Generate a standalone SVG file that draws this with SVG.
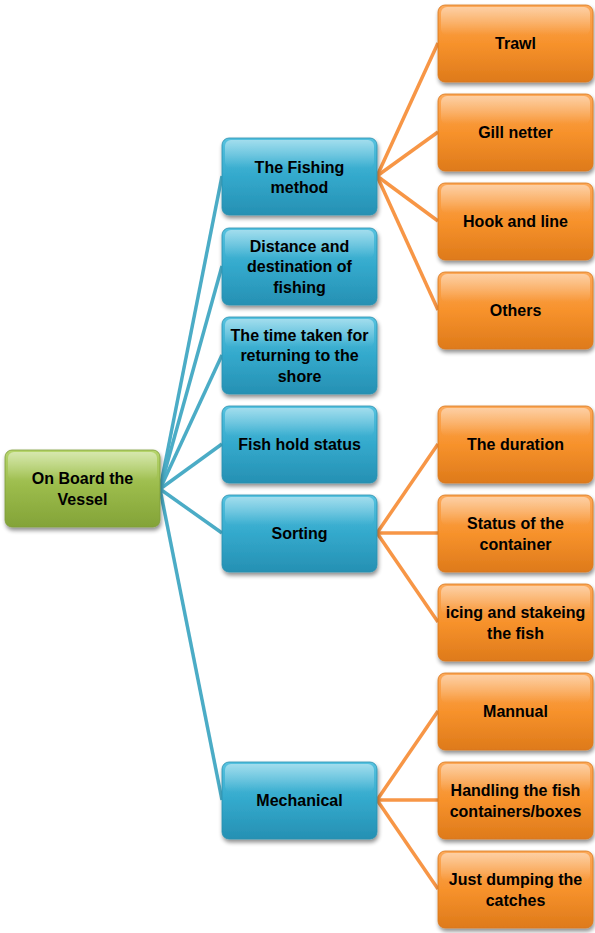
<svg xmlns="http://www.w3.org/2000/svg" width="595" height="933" viewBox="0 0 595 933">
  <defs>
    <linearGradient id="gGreen" x1="0" y1="0" x2="0" y2="1">
      <stop offset="0" stop-color="#b6d56c"/>
      <stop offset="0.5" stop-color="#9aba4a"/>
      <stop offset="1" stop-color="#83a338"/>
    </linearGradient>
    <linearGradient id="gBlue" x1="0" y1="0" x2="0" y2="1">
      <stop offset="0" stop-color="#56c2df"/>
      <stop offset="0.5" stop-color="#33a9cc"/>
      <stop offset="1" stop-color="#2690b3"/>
    </linearGradient>
    <linearGradient id="gOrange" x1="0" y1="0" x2="0" y2="1">
      <stop offset="0" stop-color="#fca95a"/>
      <stop offset="0.5" stop-color="#f7922c"/>
      <stop offset="1" stop-color="#de7a1a"/>
    </linearGradient>
    <linearGradient id="gloss" x1="0" y1="0" x2="0" y2="1">
      <stop offset="0" stop-color="#ffffff" stop-opacity="0.45"/>
      <stop offset="1" stop-color="#ffffff" stop-opacity="0"/>
    </linearGradient>
    <filter id="shadow" x="-10%" y="-10%" width="125%" height="135%">
      <feGaussianBlur in="SourceAlpha" stdDeviation="2"/>
      <feOffset dx="1" dy="3" result="b"/>
      <feComponentTransfer><feFuncA type="linear" slope="0.45"/></feComponentTransfer>
      <feMerge><feMergeNode/><feMergeNode in="SourceGraphic"/></feMerge>
    </filter>
  </defs>
  <style>
    .box { filter: url(#shadow); }
    .green { fill: url(#gGreen); stroke: #7e9c3a; stroke-width: 0.8; }
    .blue { fill: url(#gBlue); stroke: #2a8fae; stroke-width: 0.8; }
    .orange { fill: url(#gOrange); stroke: #d8761c; stroke-width: 0.8; }
    .gloss { fill: url(#gloss); }
    .lbl { font-family: "Liberation Sans", Arial, sans-serif; font-weight: bold; font-size: 16px; fill: #000; text-anchor: middle; }
    .cb { stroke: #4bacc6; stroke-width: 3.5; fill: none; }
    .co { stroke: #f79646; stroke-width: 3.5; fill: none; }
  </style>

  <!-- connectors -->
  <g id="connectors">
    <line class="cb" x1="160" y1="489" x2="222" y2="176"/>
    <line class="cb" x1="160" y1="489" x2="222" y2="266"/>
    <line class="cb" x1="160" y1="489" x2="222" y2="355"/>
    <line class="cb" x1="160" y1="489" x2="222" y2="444"/>
    <line class="cb" x1="160" y1="489" x2="222" y2="533"/>
    <line class="cb" x1="160" y1="489" x2="222" y2="800"/>

    <line class="co" x1="377" y1="176" x2="438" y2="43"/>
    <line class="co" x1="377" y1="176" x2="438" y2="132"/>
    <line class="co" x1="377" y1="176" x2="438" y2="221"/>
    <line class="co" x1="377" y1="176" x2="438" y2="310"/>

    <line class="co" x1="377" y1="533" x2="438" y2="444"/>
    <line class="co" x1="377" y1="533" x2="438" y2="533"/>
    <line class="co" x1="377" y1="533" x2="438" y2="622"/>

    <line class="co" x1="377" y1="800" x2="438" y2="711"/>
    <line class="co" x1="377" y1="800" x2="438" y2="800"/>
    <line class="co" x1="377" y1="800" x2="438" y2="889"/>
  </g>

  <!-- root -->
  <g id="root">
    <rect class="box green" x="5" y="450" width="155" height="77" rx="7"/>
    <rect class="gloss" x="8" y="452" width="149" height="28" rx="6"/>
    <text class="lbl" x="82.5" y="484">On Board the</text>
    <text class="lbl" x="82.5" y="505">Vessel</text>
  </g>

  <!-- level 1 -->
  <g id="fishing-method">
    <rect class="box blue" x="222" y="138" width="155" height="77" rx="7"/>
    <rect class="gloss" x="225" y="140" width="149" height="28" rx="6"/>
    <text class="lbl" x="299.5" y="173">The Fishing</text>
    <text class="lbl" x="299.5" y="193">method</text>
  </g>
  <g id="distance">
    <rect class="box blue" x="222" y="228" width="155" height="77" rx="7"/>
    <rect class="gloss" x="225" y="230" width="149" height="28" rx="6"/>
    <text class="lbl" x="299.5" y="252">Distance and</text>
    <text class="lbl" x="299.5" y="272">destination of</text>
    <text class="lbl" x="299.5" y="293">fishing</text>
  </g>
  <g id="return-time">
    <rect class="box blue" x="222" y="317" width="155" height="77" rx="7"/>
    <rect class="gloss" x="225" y="319" width="149" height="28" rx="6"/>
    <text class="lbl" x="299.5" y="341">The time taken for</text>
    <text class="lbl" x="299.5" y="361">returning to the</text>
    <text class="lbl" x="299.5" y="382">shore</text>
  </g>
  <g id="fish-hold">
    <rect class="box blue" x="222" y="406" width="155" height="77" rx="7"/>
    <rect class="gloss" x="225" y="408" width="149" height="28" rx="6"/>
    <text class="lbl" x="299.5" y="450">Fish hold status</text>
  </g>
  <g id="sorting">
    <rect class="box blue" x="222" y="495" width="155" height="77" rx="7"/>
    <rect class="gloss" x="225" y="497" width="149" height="28" rx="6"/>
    <text class="lbl" x="299.5" y="539">Sorting</text>
  </g>
  <g id="mechanical">
    <rect class="box blue" x="222" y="762" width="155" height="77" rx="7"/>
    <rect class="gloss" x="225" y="764" width="149" height="28" rx="6"/>
    <text class="lbl" x="299.5" y="806">Mechanical</text>
  </g>

  <!-- level 2 -->
  <g id="trawl">
    <rect class="box orange" x="438" y="5" width="155" height="77" rx="7"/>
    <rect class="gloss" x="441" y="7" width="149" height="28" rx="6"/>
    <text class="lbl" x="515.5" y="49">Trawl</text>
  </g>
  <g id="gill-netter">
    <rect class="box orange" x="438" y="94" width="155" height="77" rx="7"/>
    <rect class="gloss" x="441" y="96" width="149" height="28" rx="6"/>
    <text class="lbl" x="515.5" y="138">Gill netter</text>
  </g>
  <g id="hook-line">
    <rect class="box orange" x="438" y="183" width="155" height="77" rx="7"/>
    <rect class="gloss" x="441" y="185" width="149" height="28" rx="6"/>
    <text class="lbl" x="515.5" y="227">Hook and line</text>
  </g>
  <g id="others">
    <rect class="box orange" x="438" y="272" width="155" height="77" rx="7"/>
    <rect class="gloss" x="441" y="274" width="149" height="28" rx="6"/>
    <text class="lbl" x="515.5" y="316">Others</text>
  </g>
  <g id="duration">
    <rect class="box orange" x="438" y="406" width="155" height="77" rx="7"/>
    <rect class="gloss" x="441" y="408" width="149" height="28" rx="6"/>
    <text class="lbl" x="515.5" y="450">The duration</text>
  </g>
  <g id="container-status">
    <rect class="box orange" x="438" y="495" width="155" height="77" rx="7"/>
    <rect class="gloss" x="441" y="497" width="149" height="28" rx="6"/>
    <text class="lbl" x="515.5" y="529">Status of the</text>
    <text class="lbl" x="515.5" y="550">container</text>
  </g>
  <g id="icing">
    <rect class="box orange" x="438" y="584" width="155" height="77" rx="7"/>
    <rect class="gloss" x="441" y="586" width="149" height="28" rx="6"/>
    <text class="lbl" x="515.5" y="618">icing and stakeing</text>
    <text class="lbl" x="515.5" y="639">the fish</text>
  </g>
  <g id="mannual">
    <rect class="box orange" x="438" y="673" width="155" height="77" rx="7"/>
    <rect class="gloss" x="441" y="675" width="149" height="28" rx="6"/>
    <text class="lbl" x="515.5" y="717">Mannual</text>
  </g>
  <g id="handling">
    <rect class="box orange" x="438" y="762" width="155" height="77" rx="7"/>
    <rect class="gloss" x="441" y="764" width="149" height="28" rx="6"/>
    <text class="lbl" x="515.5" y="796">Handling the fish</text>
    <text class="lbl" x="515.5" y="817">containers/boxes</text>
  </g>
  <g id="dumping">
    <rect class="box orange" x="438" y="851" width="155" height="77" rx="7"/>
    <rect class="gloss" x="441" y="853" width="149" height="28" rx="6"/>
    <text class="lbl" x="515.5" y="885">Just dumping the</text>
    <text class="lbl" x="515.5" y="906">catches</text>
  </g>
</svg>
